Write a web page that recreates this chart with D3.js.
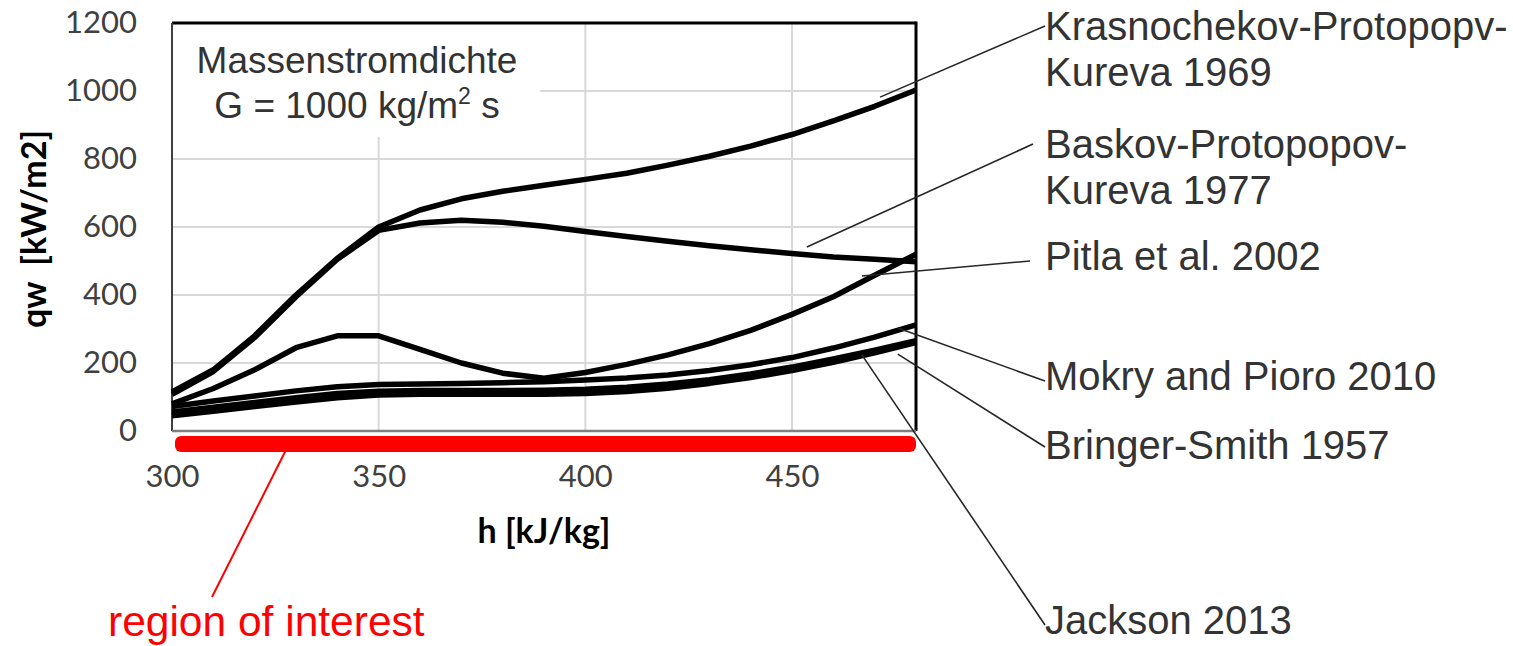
<!DOCTYPE html>
<html>
<head>
<meta charset="utf-8">
<script src="https://cdn.jsdelivr.net/npm/d3@7"></script>
<style>
  html, body { margin: 0; padding: 0; background: #fff; }
  svg { display: block; }
</style>
</head>
<body>
<svg id="chart" width="1513" height="646"></svg>
<script>
// Wall heat flux qw versus specific enthalpy h, several correlations, G = 1000 kg/m²s
const enthalpy = [300, 310, 320, 330, 340, 350, 360, 370, 380, 390, 400, 410, 420, 430, 440, 450, 460, 470, 480];

const krasnochekov = [115, 180, 280, 400, 508, 600, 650, 683, 705, 723, 740, 758, 782, 808, 838, 872, 912, 955, 1003];
const baskov       = [108, 175, 275, 395, 505, 590, 612, 620, 614, 602, 587, 572, 558, 545, 533, 522, 512, 505, 498];
const pitla        = [80, 125, 180, 245, 280, 280, 240, 200, 170, 155, 172, 196, 224, 257, 296, 343, 395, 458, 520];
const mokry        = [72, 88, 103, 118, 130, 137, 138, 140, 142, 145, 150, 156, 165, 178, 195, 216, 244, 276, 312];
const jackson      = [56, 70, 84, 98, 110, 117, 119, 119, 119, 120, 123, 129, 138, 151, 168, 188, 212, 238, 266];
const bringer      = [45, 58, 72, 85, 98, 106, 108, 108, 108, 108, 110, 116, 126, 140, 157, 178, 202, 230, 260];

const xTicks = [300, 350, 400, 450];
const yTicks = [0, 200, 400, 600, 800, 1000, 1200];

const seriesNames = [
  "Krasnochekov-Protopopv-Kureva 1969",
  "Baskov-Protopopov-Kureva 1977",
  "Pitla et al. 2002",
  "Mokry and Pioro 2010",
  "Bringer-Smith 1957",
  "Jackson 2013"
];
const seriesValues = [krasnochekov, baskov, pitla, mokry, bringer, jackson];

// label text lines and the point on each curve its leader line points to (h, qw)
const labelLines = [
  ["Krasnochekov-Protopopv-", "Kureva 1969"],
  ["Baskov-Protopopov-", "Kureva 1977"],
  ["Pitla et al. 2002"],
  ["Mokry and Pioro 2010"],
  ["Bringer-Smith 1957"],
  ["Jackson 2013"]
];
const leaderTargetH  = [471.3, 453.6, 466.9, 475.6, 475.6, 466.9];
const leaderTargetQw = [982, 541, 456, 303, 226, 224];

const svg = d3.select("#chart");
const plotLeft = 172, plotRight = 916, plotTop = 23, plotBottom = 431;

const x = d3.scaleLinear().domain([300, 480]).range([plotLeft, plotRight]);
const y = d3.scaleLinear().domain([0, 1200]).range([plotBottom, plotTop]);

const tickFont = "Lato, 'Open Sans', sans-serif";
const textFont = "'Liberation Sans', Arial, sans-serif";

// gridlines
const grid = svg.append("g");
grid.selectAll("line.h").data(yTicks.filter(d => d > 0 && d < 1200)).join("line")
  .attr("class", "h")
  .attr("x1", plotLeft).attr("x2", plotRight)
  .attr("y1", d => y(d)).attr("y2", d => y(d))
  .attr("stroke", "#d9d9d9").attr("stroke-width", 2);
grid.selectAll("line.v").data(xTicks.filter(d => d > 300)).join("line")
  .attr("class", "v")
  .attr("y1", plotTop).attr("y2", plotBottom)
  .attr("x1", d => x(d)).attr("x2", d => x(d))
  .attr("stroke", "#d9d9d9").attr("stroke-width", 2);

// white panel behind the mass flux note
svg.append("rect")
  .attr("x", plotLeft).attr("y", plotTop)
  .attr("width", 368).attr("height", 114)
  .attr("fill", "#fff");

// axes (labels only; frame drawn separately)
const yAxis = d3.axisLeft(y).tickValues(yTicks).tickFormat(d3.format("d")).tickSize(0).tickPadding(35);
const gy = svg.append("g").attr("transform", `translate(${plotLeft},0)`).call(yAxis);
gy.select(".domain").remove();
gy.selectAll("text")
  .attr("font-family", tickFont).attr("font-size", 31)
  .attr("fill", "#404040");

const xAxis = d3.axisBottom(x).tickValues(xTicks).tickFormat(d3.format("d")).tickSize(0).tickPadding(34);
const gx = svg.append("g").attr("transform", `translate(0,${plotBottom})`).call(xAxis);
gx.select(".domain").remove();
gx.selectAll("text")
  .attr("font-family", tickFont).attr("font-size", 31)
  .attr("fill", "#404040");

// plot frame
svg.append("line").attr("x1", plotLeft).attr("x2", plotRight).attr("y1", plotTop).attr("y2", plotTop)
  .attr("stroke", "#000").attr("stroke-width", 3);
svg.append("line").attr("x1", plotRight).attr("x2", plotRight).attr("y1", plotTop - 1.5).attr("y2", plotBottom)
  .attr("stroke", "#000").attr("stroke-width", 3);
svg.append("line").attr("x1", plotLeft).attr("x2", plotLeft).attr("y1", plotTop).attr("y2", plotBottom)
  .attr("stroke", "#404040").attr("stroke-width", 2);
svg.append("line").attr("x1", plotLeft).attr("x2", plotRight).attr("y1", plotBottom).attr("y2", plotBottom)
  .attr("stroke", "#7f7f7f").attr("stroke-width", 2.5);

// curves
const line = d3.line()
  .x((d, i) => x(enthalpy[i]))
  .y(d => y(d))
  .curve(d3.curveLinear);

svg.append("g").selectAll("path").data(seriesValues).join("path")
  .attr("d", d => line(d))
  .attr("fill", "none")
  .attr("stroke", "#000")
  .attr("stroke-width", 5.5)
  .attr("stroke-linejoin", "round")
  .attr("stroke-linecap", "butt");

// mass flux note
const note = svg.append("text")
  .attr("font-family", textFont).attr("font-size", 37).attr("fill", "#333")
  .attr("text-anchor", "middle");
note.append("tspan").attr("x", 357).attr("y", 73).text("Massenstromdichte");
const l2 = note.append("tspan").attr("x", 357).attr("y", 118);
l2.append("tspan").text("G = 1000 kg/m");
l2.append("tspan").attr("font-size", 23).attr("dy", -14).text("2");
l2.append("tspan").attr("dy", 14).text(" s");

// axis titles
svg.append("text")
  .attr("transform", "translate(46,229) rotate(-90)")
  .attr("text-anchor", "middle")
  .attr("font-family", tickFont).attr("font-weight", "bold").attr("font-size", 34)
  .attr("fill", "#000")
  .style("white-space", "pre")
  .text("qw  [kW/m2]");

svg.append("text")
  .attr("x", (plotLeft + plotRight) / 2).attr("y", 543)
  .attr("text-anchor", "middle")
  .attr("font-family", tickFont).attr("font-weight", "bold").attr("font-size", 34)
  .attr("fill", "#000")
  .text("h [kJ/kg]");

// region of interest bar along the h axis
svg.append("rect")
  .attr("x", x(300) + 3).attr("y", 436)
  .attr("width", x(480) - x(300) - 3).attr("height", 16)
  .attr("rx", 6)
  .attr("fill", "#ff0000");
svg.append("line")
  .attr("x1", x(328.3)).attr("y1", 444).attr("x2", 212).attr("y2", 597)
  .attr("stroke", "#ff0000").attr("stroke-width", 2);
svg.append("text")
  .attr("x", 108).attr("y", 636)
  .attr("font-family", textFont).attr("font-size", 42.5).attr("fill", "#ff0000")
  .text("region of interest");

// series labels with leader lines
const labelAnchor = [[1045, 26], [1033, 144], [1030, 261], [1045, 381], [1045, 447], [1045, 625]];
const labelBaseline = [40, 158, 270, 390, 459, 634];

const leaders = svg.append("g");
seriesNames.forEach((name, i) => {
  leaders.append("line")
    .attr("x1", labelAnchor[i][0]).attr("y1", labelAnchor[i][1])
    .attr("x2", x(leaderTargetH[i])).attr("y2", y(leaderTargetQw[i]))
    .attr("stroke", "#262626").attr("stroke-width", 1.6);
  const t = svg.append("text")
    .attr("font-family", textFont).attr("font-size", 40).attr("fill", "#333");
  labelLines[i].forEach((s, k) => {
    t.append("tspan").attr("x", 1045).attr("y", labelBaseline[i] + k * 46).text(s);
  });
});
</script>
</body>
</html>
